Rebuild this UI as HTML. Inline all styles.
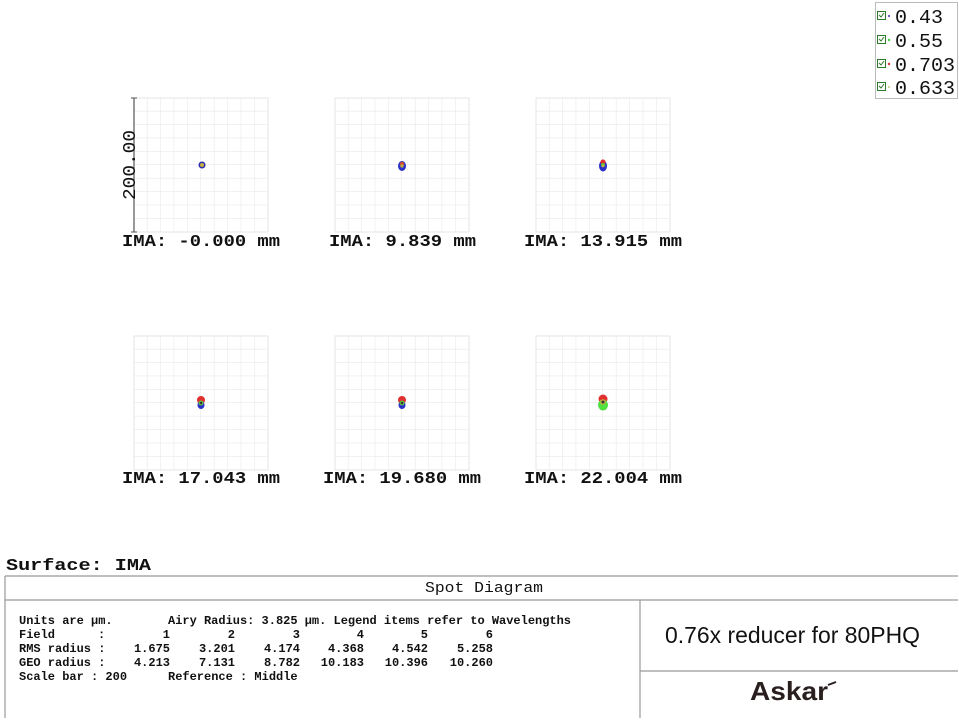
<!DOCTYPE html>
<html><head><meta charset="utf-8"><style>
html,body{margin:0;padding:0;background:#fff;}
svg{display:block;}
.m{font-family:"Liberation Mono",monospace;}
</style></head><body>
<svg width="959" height="726" xmlns="http://www.w3.org/2000/svg">
<defs>
<pattern id="g" x="0" y="0" width="13.4" height="13.4" patternUnits="userSpaceOnUse">
<path d="M13.4 0V13.4M0 13.4H13.4" stroke="#e4e4e4" stroke-width="1" fill="none"/>
</pattern>
<g id="grid"><rect x="0" y="0" width="134" height="134" fill="url(#g)"/><rect x="0" y="0" width="134" height="134" fill="none" stroke="#e4e4e4"/></g>
</defs>
<use href="#grid" x="134" y="98"/>
<use href="#grid" x="335" y="98"/>
<use href="#grid" x="536" y="98"/>
<use href="#grid" x="134" y="336"/>
<use href="#grid" x="335" y="336"/>
<use href="#grid" x="536" y="336"/>
<line x1="134" y1="98" x2="134" y2="232" stroke="#555" stroke-width="1.2"/>
<line x1="131" y1="98" x2="137" y2="98" stroke="#555"/>
<line x1="131" y1="232" x2="137" y2="232" stroke="#555"/>
<text class="m" x="0" y="0" font-size="18" textLength="70" lengthAdjust="spacingAndGlyphs" transform="translate(135,200) rotate(-90)" fill="#111">200.00</text>
<circle cx="202" cy="165" r="3.5" fill="#2b2bb0"/><circle cx="202" cy="165" r="2" fill="#c8b040"/>
<ellipse cx="402" cy="166" rx="4" ry="5" fill="#2a30c8"/><circle cx="402" cy="164" r="2.2" fill="#d05030"/><circle cx="402" cy="166" r="1.6" fill="#c8b040"/>
<ellipse cx="603" cy="166" rx="4" ry="5.5" fill="#2a30c8"/><circle cx="603" cy="162" r="2.6" fill="#e03030"/><circle cx="603" cy="165" r="2" fill="#60c040"/><circle cx="603" cy="166" r="1.3" fill="#c8b040"/>
<circle cx="201" cy="400" r="4" fill="#e03030"/><ellipse cx="201" cy="405" rx="3.5" ry="4" fill="#2a30c8"/><circle cx="201" cy="403" r="2.5" fill="#60c040"/><circle cx="201" cy="403" r="1.2" fill="#333"/>
<circle cx="402" cy="400" r="4" fill="#e03030"/><ellipse cx="402" cy="405" rx="3.5" ry="4" fill="#2a30c8"/><circle cx="402" cy="403" r="2.5" fill="#60c040"/><circle cx="402" cy="403" r="1.2" fill="#333"/>
<circle cx="603" cy="399" r="4.5" fill="#e03030"/><ellipse cx="603" cy="405" rx="5" ry="5.5" fill="#50e040"/><circle cx="603" cy="402" r="2.8" fill="#c8b040"/><circle cx="603" cy="402" r="1.5" fill="#333"/>
<g class="m" font-size="17" font-weight="bold" fill="#111">
<text x="122" y="246" textLength="158" lengthAdjust="spacingAndGlyphs">IMA: -0.000 mm</text>
<text x="329" y="246" textLength="147" lengthAdjust="spacingAndGlyphs">IMA: 9.839 mm</text>
<text x="524" y="246" textLength="158" lengthAdjust="spacingAndGlyphs">IMA: 13.915 mm</text>
<text x="122" y="483" textLength="158" lengthAdjust="spacingAndGlyphs">IMA: 17.043 mm</text>
<text x="323" y="483" textLength="158" lengthAdjust="spacingAndGlyphs">IMA: 19.680 mm</text>
<text x="524" y="483" textLength="158" lengthAdjust="spacingAndGlyphs">IMA: 22.004 mm</text>
<text x="6" y="570" textLength="145" lengthAdjust="spacingAndGlyphs">Surface: IMA</text>
</g>
<rect x="875.5" y="2.5" width="82" height="96" fill="#fff" stroke="#bbb"/>
<g class="m" font-size="19" fill="#111">
<text x="895" y="23" textLength="48" lengthAdjust="spacingAndGlyphs">0.43</text><text x="895" y="47" textLength="48" lengthAdjust="spacingAndGlyphs">0.55</text><text x="895" y="71" textLength="60" lengthAdjust="spacingAndGlyphs">0.703</text><text x="895" y="94" textLength="60" lengthAdjust="spacingAndGlyphs">0.633</text>
</g>
<g stroke="#2a7a2a" fill="none" stroke-width="1">
<rect x="877.5" y="11.5" width="8" height="8"/><rect x="877.5" y="35.5" width="8" height="8"/><rect x="877.5" y="59.5" width="8" height="8"/><rect x="877.5" y="82.5" width="8" height="8"/>
<path d="M879 15l2 2 3-4M879 39l2 2 3-4M879 63l2 2 3-4M879 86l2 2 3-4"/>
</g>
<circle cx="889" cy="16" r="1" fill="#3030c0"/><circle cx="889" cy="40" r="1.2" fill="#40d040"/><circle cx="889" cy="64" r="1.2" fill="#e03030"/><circle cx="889" cy="87" r="1" fill="#c0d080"/>
<g stroke="#999" stroke-width="1.2" fill="none">
<line x1="5" y1="576" x2="958" y2="576"/>
<line x1="5" y1="600" x2="958" y2="600"/>
<line x1="5" y1="576" x2="5" y2="718"/>
<line x1="640" y1="600" x2="640" y2="718"/>
<line x1="640" y1="671" x2="958" y2="671"/>
</g>
<text class="m" x="425" y="592" font-size="15" textLength="118" lengthAdjust="spacingAndGlyphs" fill="#111">Spot Diagram</text>
<g class="m" font-size="12" font-weight="bold" fill="#111">
<text x="19" y="624">Units are µm.</text>
<text x="168" y="624" textLength="403" lengthAdjust="spacingAndGlyphs">Airy Radius: 3.825 µm. Legend items refer to Wavelengths</text>
<text x="19" y="638">Field</text><text x="98" y="638">:</text>
<text x="19" y="652">RMS radius :</text>
<text x="19" y="666">GEO radius :</text>
<text x="19" y="680">Scale bar  : 200</text>
<text x="168" y="680">Reference  : Middle</text>
<g text-anchor="end">
<text x="170" y="638">1</text><text x="235" y="638">2</text><text x="300" y="638">3</text><text x="364" y="638">4</text><text x="428" y="638">5</text><text x="493" y="638">6</text>
<text x="170" y="652">1.675</text><text x="235" y="652">3.201</text><text x="300" y="652">4.174</text><text x="364" y="652">4.368</text><text x="428" y="652">4.542</text><text x="493" y="652">5.258</text>
<text x="170" y="666">4.213</text><text x="235" y="666">7.131</text><text x="300" y="666">8.782</text><text x="364" y="666">10.183</text><text x="428" y="666">10.396</text><text x="493" y="666">10.260</text>
</g>
</g>
<text x="665" y="643" font-family="Liberation Sans, sans-serif" font-size="23" textLength="255" lengthAdjust="spacingAndGlyphs" fill="#111">0.76x reducer for 80PHQ</text>
<text x="750" y="700" font-family="Liberation Sans, sans-serif" font-size="26" font-weight="bold" textLength="78" lengthAdjust="spacingAndGlyphs" fill="#2a1f1f">Askar</text>
<path d="M828 685l8-3" stroke="#2a1f1f" stroke-width="2"/>
</svg>
</body></html>
